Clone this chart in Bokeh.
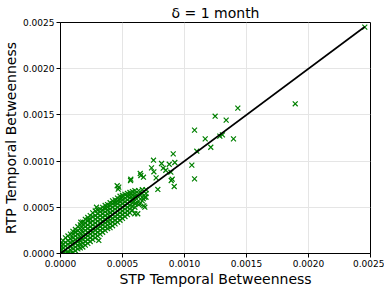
from bokeh.plotting import figure
from bokeh.models import NumeralTickFormatter, FixedTicker, Range1d
from bokeh.embed import file_html
from bokeh.resources import INLINE

# Dense band of points along the diagonal
band_x = [
    0e-5, 0e-5, 0e-5, 0e-5,
    2e-5, 2e-5, 2e-5, 2e-5, 2e-5,
    4e-5, 4e-5, 4e-5, 4e-5, 4e-5,
    6e-5, 6e-5, 6e-5, 6e-5, 6e-5, 6e-5,
    8e-5, 8e-5, 8e-5, 8e-5, 8e-5, 8e-5,
    10e-5, 10e-5, 10e-5, 10e-5, 10e-5, 10e-5, 10e-5,
    12e-5, 12e-5, 12e-5, 12e-5, 12e-5, 12e-5, 12e-5,
    14e-5, 14e-5, 14e-5, 14e-5, 14e-5, 14e-5, 14e-5,
    16e-5, 16e-5, 16e-5, 16e-5, 16e-5, 16e-5, 16e-5,
    18e-5, 18e-5, 18e-5, 18e-5, 18e-5, 18e-5, 18e-5, 18e-5,
    20e-5, 20e-5, 20e-5, 20e-5, 20e-5, 20e-5, 20e-5, 20e-5,
    22e-5, 22e-5, 22e-5, 22e-5, 22e-5, 22e-5, 22e-5, 22e-5,
    24e-5, 24e-5, 24e-5, 24e-5, 24e-5, 24e-5, 24e-5, 24e-5,
    26e-5, 26e-5, 26e-5, 26e-5, 26e-5, 26e-5, 26e-5, 26e-5,
    28e-5, 28e-5, 28e-5, 28e-5, 28e-5, 28e-5, 28e-5, 28e-5,
    30e-5, 30e-5, 30e-5, 30e-5, 30e-5, 30e-5, 30e-5, 30e-5,
    32e-5, 32e-5, 32e-5, 32e-5, 32e-5, 32e-5, 32e-5, 32e-5,
    34e-5, 34e-5, 34e-5, 34e-5, 34e-5, 34e-5, 34e-5, 34e-5,
    36e-5, 36e-5, 36e-5, 36e-5, 36e-5, 36e-5, 36e-5, 36e-5,
    38e-5, 38e-5, 38e-5, 38e-5, 38e-5, 38e-5, 38e-5, 38e-5,
    40e-5, 40e-5, 40e-5, 40e-5, 40e-5, 40e-5, 40e-5, 40e-5,
    42e-5, 42e-5, 42e-5, 42e-5, 42e-5, 42e-5, 42e-5, 42e-5,
    44e-5, 44e-5, 44e-5, 44e-5, 44e-5, 44e-5, 44e-5, 44e-5,
    46e-5, 46e-5, 46e-5, 46e-5, 46e-5, 46e-5, 46e-5, 46e-5,
    48e-5, 48e-5, 48e-5, 48e-5, 48e-5, 48e-5, 48e-5, 48e-5,
    50e-5, 50e-5, 50e-5, 50e-5, 50e-5, 50e-5, 50e-5, 50e-5,
    52e-5, 52e-5, 52e-5, 52e-5, 52e-5, 52e-5, 52e-5,
    54e-5, 54e-5, 54e-5, 54e-5, 54e-5, 54e-5, 54e-5,
    56e-5, 56e-5, 56e-5, 56e-5, 56e-5, 56e-5, 56e-5,
    58e-5, 58e-5, 58e-5, 58e-5, 58e-5, 58e-5,
    60e-5, 60e-5, 60e-5, 60e-5, 60e-5, 60e-5,
    63e-5, 63e-5, 63e-5, 63e-5, 63e-5,
    66e-5, 66e-5, 66e-5, 66e-5,
    69e-5, 69e-5, 69e-5,
]
band_y = [
    0e-5, 3e-5, 6e-5, 10e-5,
    0e-5, 2e-5, 6e-5, 10e-5, 14e-5,
    0e-5, 4e-5, 8e-5, 12e-5, 17e-5,
    0e-5, 2e-5, 6e-5, 10e-5, 14e-5, 19e-5,
    0e-5, 4e-5, 8e-5, 12e-5, 16e-5, 21e-5,
    1e-5, 5e-5, 9e-5, 13e-5, 17e-5, 21e-5, 24e-5,
    3e-5, 7e-5, 11e-5, 15e-5, 19e-5, 23e-5, 26e-5,
    5e-5, 9e-5, 13e-5, 17e-5, 21e-5, 25e-5, 29e-5,
    6e-5, 10e-5, 14e-5, 18e-5, 22e-5, 27e-5, 31e-5,
    7e-5, 11e-5, 15e-5, 19e-5, 23e-5, 27e-5, 31e-5, 34e-5,
    9e-5, 13e-5, 17e-5, 21e-5, 25e-5, 29e-5, 33e-5, 37e-5,
    11e-5, 15e-5, 19e-5, 23e-5, 27e-5, 31e-5, 35e-5, 39e-5,
    13e-5, 17e-5, 21e-5, 25e-5, 29e-5, 33e-5, 37e-5, 41e-5,
    15e-5, 19e-5, 23e-5, 27e-5, 31e-5, 35e-5, 40e-5, 44e-5,
    17e-5, 21e-5, 25e-5, 29e-5, 33e-5, 37e-5, 41e-5, 46e-5,
    19e-5, 23e-5, 27e-5, 31e-5, 35e-5, 39e-5, 43e-5, 47e-5,
    21e-5, 25e-5, 29e-5, 33e-5, 37e-5, 41e-5, 45e-5, 48e-5,
    23e-5, 27e-5, 31e-5, 35e-5, 39e-5, 43e-5, 47e-5, 50e-5,
    25e-5, 29e-5, 33e-5, 37e-5, 41e-5, 45e-5, 49e-5, 52e-5,
    27e-5, 31e-5, 35e-5, 39e-5, 43e-5, 47e-5, 50e-5, 53e-5,
    28e-5, 32e-5, 36e-5, 40e-5, 44e-5, 48e-5, 52e-5, 55e-5,
    30e-5, 34e-5, 38e-5, 42e-5, 46e-5, 50e-5, 54e-5, 57e-5,
    32e-5, 36e-5, 40e-5, 44e-5, 48e-5, 52e-5, 55e-5, 58e-5,
    34e-5, 38e-5, 42e-5, 46e-5, 50e-5, 54e-5, 57e-5, 60e-5,
    36e-5, 40e-5, 44e-5, 48e-5, 52e-5, 56e-5, 59e-5, 62e-5,
    38e-5, 42e-5, 46e-5, 50e-5, 54e-5, 58e-5, 61e-5, 63e-5,
    40e-5, 44e-5, 48e-5, 52e-5, 56e-5, 60e-5, 64e-5,
    42e-5, 46e-5, 50e-5, 54e-5, 58e-5, 62e-5, 65e-5,
    44e-5, 48e-5, 52e-5, 56e-5, 60e-5, 63e-5, 66e-5,
    47e-5, 51e-5, 55e-5, 59e-5, 63e-5, 67e-5,
    50e-5, 54e-5, 58e-5, 62e-5, 65e-5, 68e-5,
    53e-5, 57e-5, 61e-5, 65e-5, 68e-5,
    57e-5, 61e-5, 65e-5, 69e-5,
    61e-5, 65e-5, 69e-5,
]

# Scattered points away from the band
spread_x = [
    245.4e-5, 189.3e-5, 143.0e-5, 124.7e-5, 133.6e-5, 108.1e-5, 116.7e-5,
    128.5e-5, 130.6e-5, 139.5e-5, 121.2e-5, 109.9e-5, 90.9e-5, 75.0e-5,
    81.5e-5, 92.2e-5, 87.7e-5, 73.4e-5, 82.8e-5, 75.3e-5, 89.0e-5,
    105.9e-5, 108.1e-5, 64.3e-5, 66.9e-5, 56.7e-5, 77.1e-5, 90.1e-5,
    91.7e-5, 45.7e-5, 46.5e-5, 78.5e-5, 68.0e-5, 67.2e-5, 60.7e-5,
    29.0e-5, 30.9e-5, 16.4e-5, 22.3e-5, 84.9e-5, 66.7e-5, 59.9e-5,
    68.0e-5, 64.0e-5, 64.8e-5, 89.3e-5, 47.0e-5, 62.3e-5, 56.5e-5,
]
spread_y = [
    245.0e-5, 162.0e-5, 157.3e-5, 148.6e-5, 144.3e-5, 133.5e-5, 124.1e-5,
    127.0e-5, 128.4e-5, 124.1e-5, 115.0e-5, 110.7e-5, 107.8e-5, 101.0e-5,
    97.4e-5, 98.5e-5, 96.6e-5, 92.7e-5, 92.3e-5, 88.4e-5, 88.0e-5,
    95.6e-5, 80.8e-5, 86.6e-5, 82.6e-5, 80.4e-5, 81.9e-5, 80.4e-5,
    72.5e-5, 73.3e-5, 69.6e-5, 69.3e-5, 60.9e-5, 51.6e-5, 54.4e-5,
    50.1e-5, 14.1e-5, 33.9e-5, 36.5e-5, 90.1e-5, 59.2e-5, 43.0e-5,
    50.1e-5, 53.8e-5, 84.4e-5, 79.0e-5, 71.8e-5, 43.0e-5, 79.0e-5,
]

# Identity reference line, from origin to the largest point
line_x = [0.0, 245.4e-5]
line_y = [0.0, 245.4e-5]

ticks = [0.0, 0.0005, 0.0010, 0.0015, 0.0020, 0.0025]

p = figure(frame_width=310, frame_height=231, output_backend="svg", toolbar_location=None,
           x_range=Range1d(0, 0.0025), y_range=Range1d(0, 0.0025),
           min_border_left=5, min_border_right=14, min_border_top=0, min_border_bottom=0)

p.title.text = "\u03b4 = 1 month"
p.title.align = "center"
p.title.text_font = "DejaVu Sans"
p.title.text_font_size = "14px"
p.title.text_font_style = "normal"
p.title.text_color = "black"
p.title.standoff = 4
p.title.offset = 0

green = "#008000"
p.scatter(band_x, band_y, marker="x", size=7, line_color=green, line_width=1.2)
p.scatter(spread_x, spread_y, marker="x", size=7, line_color=green, line_width=1.2)
p.line(line_x, line_y, line_color="black", line_width=1.6)

for ax in (p.xaxis[0], p.yaxis[0]):
    ax.ticker = FixedTicker(ticks=ticks)
    ax.formatter = NumeralTickFormatter(format="0.0000")
    ax.major_label_text_font = "DejaVu Sans"
    ax.major_label_text_font_size = "9px"
    ax.major_label_text_color = "black"
    ax.axis_label_text_font = "DejaVu Sans"
    ax.axis_label_text_font_size = "14px"
    ax.axis_label_text_font_style = "normal"
    ax.axis_label_text_color = "black"
    ax.axis_line_color = "black"
    ax.major_tick_line_color = "black"
    ax.major_tick_out = 4
    ax.major_tick_in = 0
    ax.minor_tick_line_color = None
    ax.major_label_standoff = 2
    ax.axis_label_standoff = 1

p.xaxis.axis_label = "STP Temporal Betweenness"
p.yaxis.axis_label = "RTP Temporal Betweenness"

p.grid.grid_line_color = "#e5e5e5"
p.grid.grid_line_width = 1
p.outline_line_color = "black"
p.outline_line_width = 1
p.outline_line_alpha = 1

open("out.html", "w").write(file_html(p, INLINE))
